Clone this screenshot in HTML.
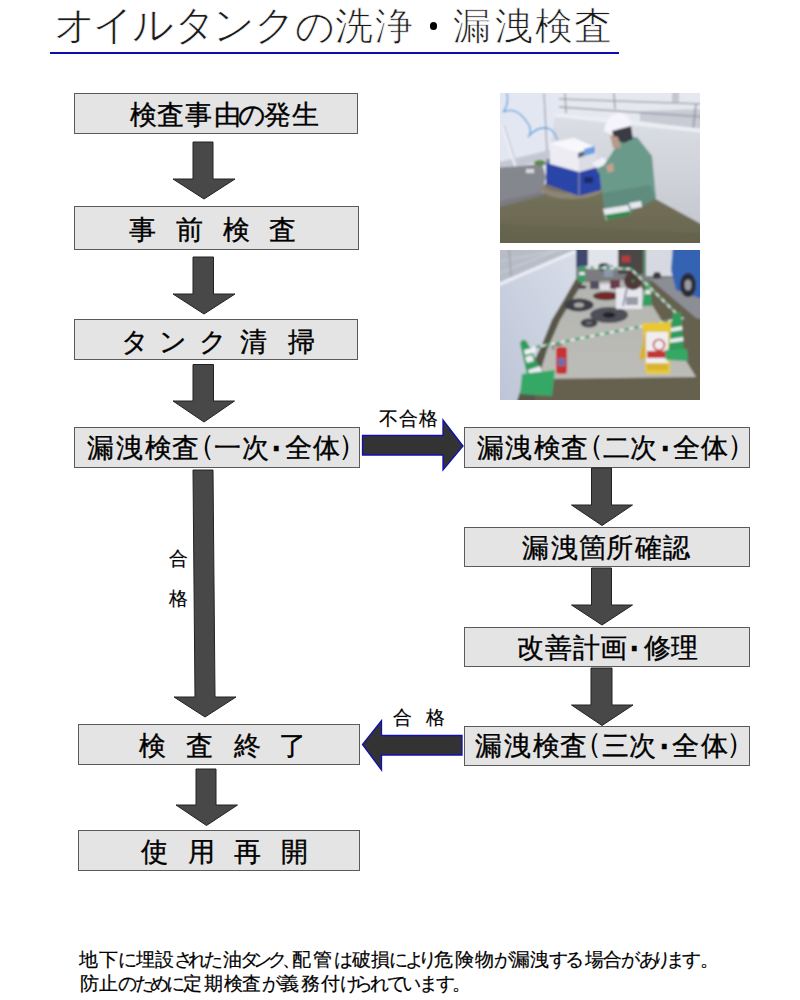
<!DOCTYPE html>
<html lang="ja">
<head>
<meta charset="utf-8">
<style>
html,body{margin:0;padding:0;background:#fff;}
body{width:800px;height:1000px;position:relative;overflow:hidden;font-family:"Liberation Sans",sans-serif;color:#000;}
.box{position:absolute;box-sizing:border-box;background:#e4e4e4;border:1px solid #5a5a5a;}
.ln{position:absolute;left:0;width:800px;height:40px;line-height:1;white-space:nowrap;}
.ln span{position:absolute;top:0;}
.bx span{-webkit-text-stroke:0.35px #000;}
.lb span{-webkit-text-stroke:0.2px #000;}
.tt span{-webkit-text-stroke:0.7px #fff;}
svg{position:absolute;left:0;top:0;}
</style>
</head>
<body>
<div style="position:absolute;left:50px;top:52.2px;width:568.7px;height:2px;background:#0c0cb0;"></div>
<div style="position:absolute;left:429.5px;top:22.4px;width:7.4px;height:7.4px;border-radius:50%;background:#000;"></div>

<div class="box" style="left:73.5px;top:92.9px;width:284.5px;height:41.5px;"></div>
<div class="box" style="left:73.5px;top:205.7px;width:285.6px;height:44.1px;"></div>
<div class="box" style="left:73.5px;top:318.9px;width:284.5px;height:40.9px;"></div>
<div class="box" style="left:73.5px;top:426.8px;width:286.5px;height:41px;"></div>
<div class="box" style="left:78.2px;top:724.1px;width:281.8px;height:41.3px;"></div>
<div class="box" style="left:78.2px;top:830px;width:281.8px;height:41.3px;"></div>
<div class="box" style="left:463.5px;top:427px;width:286.4px;height:40.9px;"></div>
<div class="box" style="left:463.5px;top:526.7px;width:286.6px;height:40.8px;"></div>
<div class="box" style="left:463.5px;top:627px;width:286.6px;height:40.2px;"></div>
<div class="box" style="left:463.5px;top:725.5px;width:286.8px;height:40.9px;"></div>

<svg width="800" height="1000" viewBox="0 0 800 1000">
 <g fill="#484848" stroke="#222" stroke-width="1">
  <path d="M193 142 L213 142 L213 179 L235 179 L204 199 L173 179 L193 179 Z"/>
  <path d="M193 257 L213.5 257 L213.5 294 L235 294 L204 314 L173 294 L193 294 Z"/>
  <path d="M193 364.5 L213.5 364.5 L213.5 401 L234.5 401 L204 422 L173 401 L193 401 Z"/>
  <path d="M193 470 L213 470 L215 697 L236 697 L205 717 L174 697 L195 697 Z"/>
  <path d="M196 769 L216 769 L216 805 L237.5 805 L206.5 825.5 L176 805 L196 805 Z"/>
  <path d="M591.5 468 L611.5 468 L611.5 505 L632.5 505 L602 525.5 L571.5 505 L591.5 505 Z"/>
  <path d="M591.5 568 L611.5 568 L611.5 605 L632.5 605 L602 625 L571.5 605 L591.5 605 Z"/>
  <path d="M591 668 L612 668 L612 705 L633 705 L602 725.5 L571.5 705 L591 705 Z"/>
 </g>
 <g fill="#333" stroke="#1010b0" stroke-width="1.3">
  <path d="M362.5 435.5 L443 435.5 L443 420 L463 446 L443 470 L443 455 L362.5 455 Z"/>
  <path d="M462 735.5 L381.5 735.5 L381.5 720.5 L362.5 744.5 L381.5 770 L381.5 755 L462 755 Z"/>
 </g>
</svg>
<svg style="left:500px;top:93px" width="200" height="150" viewBox="0 0 200 150">
 <defs>
  <filter id="bl1" x="-10%" y="-10%" width="120%" height="120%"><feGaussianBlur stdDeviation="0.8"/></filter>
  <linearGradient id="w1" x1="0" y1="0" x2="1" y2="0"><stop offset="0" stop-color="#e2e6f2"/><stop offset="1" stop-color="#e8ebf4"/></linearGradient>
  <linearGradient id="cw1" x1="0" y1="0" x2="0" y2="1"><stop offset="0" stop-color="#dcdee6"/><stop offset="1" stop-color="#c6c8d0"/></linearGradient>
  <linearGradient id="gr1" x1="0" y1="0" x2="0" y2="1"><stop offset="0" stop-color="#76735c"/><stop offset="1" stop-color="#68664e"/></linearGradient>
  <clipPath id="c1"><rect x="0" y="0" width="200" height="150"/></clipPath>
 </defs>
 <rect x="0" y="0" width="200" height="150" fill="#9a9a94"/>
 <g clip-path="url(#c1)"><g filter="url(#bl1)">
  <rect x="-5" y="-5" width="210" height="160" fill="url(#w1)"/>
  <!-- sky/building behind railing -->
  <rect x="58" y="-5" width="147" height="40" fill="#e6e8f0"/>
  <rect x="172" y="-5" width="7" height="14" fill="#c4c6d0"/>
  <path d="M140 18 L205 16 L205 37 L140 28 Z" fill="#c8cad4"/>
  <!-- railing -->
  <path d="M59 6 L205 11" stroke="#a4a6b0" stroke-width="1.6"/>
  <path d="M59 14 L205 24" stroke="#a0a2ac" stroke-width="1.6"/>
  <path d="M65 0 L66 20" stroke="#8e909c" stroke-width="1.2"/>
  <path d="M114 0 L115 16" stroke="#8e909c" stroke-width="1.2"/>
  <path d="M196 11 L193 37" stroke="#8e909c" stroke-width="1.4"/>
  <!-- concrete wall -->
  <path d="M55 21 L200 37 L205 37 L205 133 L152 105 L100 82 L50 58 Z" fill="url(#cw1)"/>
  <path d="M55 20 L205 36 L205 40 L55 24 Z" fill="#eceef4"/>
  <!-- left building wall base -->
  <path d="M-5 70 L50 57 L52 66 L-5 78 Z" fill="#c4c7d2"/>
  <!-- pipe -->
  <path d="M44 0 L47 58" stroke="#9a9ca6" stroke-width="1.2"/>
  <path d="M3 32 L17 76" stroke="#f0f0f6" stroke-width="4"/>
  <path d="M4 32 L18 76" stroke="#a0a4b4" stroke-width="0.8"/>
  <rect x="9" y="76" width="11" height="7" fill="#8a4a4a"/>
  <!-- hose -->
  <path d="M7 0 Q9 12 3 19 Q18 12 30 34 Q31 42 28 44 Q38 32 50 36 Q56 40 57 47" fill="none" stroke="#4a9ed8" stroke-width="1.3"/>
  <!-- grass -->
  <path d="M-5 111 L42 100 L60 100 L100 98 L103 84 L152 104 L205 133 L205 155 L-5 155 Z" fill="url(#gr1)"/>
  <path d="M-5 130 L205 140 L205 155 L-5 155 Z" fill="#5e5e48" opacity="0.3"/>
  <!-- gravel -->
  <path d="M-5 75 L42 71 L46 84 L42 100 L-5 112 Z" fill="#85878f"/>
  <path d="M0 108 L42 99 L44 102 L0 114 Z" fill="#7a7a80"/>
  <rect x="26" y="76" width="8" height="4" fill="#d8d8e0"/>
  <!-- plant -->
  <ellipse cx="40" cy="70" rx="6" ry="3" fill="#5a8a4a"/>
  <!-- concrete base ring -->
  <ellipse cx="72" cy="96" rx="31" ry="10" fill="#8c8474"/>
  <ellipse cx="72" cy="93" rx="27" ry="7" fill="#7a7264"/>
  <!-- blue case -->
  <path d="M46 66 L100 68 L101 97 L79 103 L46 91 Z" fill="#2c44a8"/>
  <path d="M46 66 L100 68 L100 71 L79 76 L46 70 Z" fill="#8088a8"/>
  <path d="M79 76 L79 103" stroke="#9094a8" stroke-width="1.2"/>
  <rect x="84" y="84" width="9" height="6" fill="#1e2a6a"/>
  <!-- machine -->
  <path d="M50 50 L74 45 L97 55 L97 74 L79 79 L50 71 Z" fill="#ececf2"/>
  <path d="M50 50 L74 45 L97 55 L79 60 Z" fill="#f8f8fc"/>
  <path d="M79 60 L97 55 L97 74 L79 79 Z" fill="#dcdce4"/>
  <path d="M84 56 L95 53 L95 60 L84 63 Z" fill="#6aa0e0"/>
  <path d="M78 60 L84 58 L84 63 L78 65 Z" fill="#5c6478"/>
  <!-- clipboard -->
  <path d="M92 70 L103 64 L118 80 L108 86 Z" fill="#f0f0f6"/>
  <!-- person -->
  <path d="M121 45 L137 44 L152 63 L156 105 L147 110 L131 118 L118 124 L105 121 L103 105 L100 82 L96 76 L104 72 L112 60 Z" fill="#6b9a8a"/>
  <path d="M103 100 L150 92 L156 105 L147 110 L131 118 L118 124 L105 121 Z" fill="#5e8c7e"/>
  <path d="M104 38 Q106 22 118 20 Q130 20 131 33 L112 42 Z" fill="#f4f4fa"/>
  <path d="M112 38 L131 33 L133 46 L124 50 L114 46 Z" fill="#3a3a44"/>
  <path d="M110 42 L118 44 L121 55 L113 55 Z" fill="#b89a88"/>
  <path d="M106 73 L113 70 L114 78 L108 80 Z" fill="#c8a090"/>
  <!-- shoes -->
  <path d="M103 116 L128 112 L131 121 L106 127 Z" fill="#e8e8ee"/>
  <path d="M105 122 L130 118 L131 122 L107 127 Z" fill="#2e8a4e"/>
  <path d="M129 110 L141 108 L142 114 L131 116 Z" fill="#e8e8ee"/>
 </g></g>
</svg>
<svg style="left:500px;top:250px" width="200" height="150" viewBox="0 0 200 150">
 <defs>
  <filter id="bl2" x="-10%" y="-10%" width="120%" height="120%"><feGaussianBlur stdDeviation="0.8"/></filter>
  <linearGradient id="w2" x1="1" y1="0" x2="0" y2="1"><stop offset="0" stop-color="#d8dde9"/><stop offset="1" stop-color="#bcc4d6"/></linearGradient>
  <linearGradient id="pad2" x1="0" y1="0" x2="0" y2="1"><stop offset="0" stop-color="#b4b4b0"/><stop offset="1" stop-color="#bcbcb8"/></linearGradient>
  <clipPath id="c2"><rect x="0" y="0" width="200" height="150"/></clipPath>
 </defs>
 <rect x="0" y="0" width="200" height="150" fill="#8a8a84"/>
 <g clip-path="url(#c2)"><g filter="url(#bl2)">
  <rect x="-5" y="-5" width="210" height="160" fill="#66604f"/>
  <!-- background band -->
  <rect x="74" y="-5" width="131" height="36" fill="#7c7c80"/>
  <rect x="76" y="-5" width="12" height="22" fill="#3c4670"/>
  <rect x="88" y="-5" width="30" height="24" fill="#e2e4ec"/>
  <ellipse cx="104" cy="17" rx="6" ry="4" fill="#34343a"/>
  <rect x="118" y="-5" width="28" height="29" fill="#4c4646"/>
  <rect x="122" y="6" width="8" height="6" fill="#b83a3a"/>
  <rect x="146" y="-5" width="30" height="31" fill="#d6d8e2"/>
  <circle cx="157" cy="26" r="4" fill="#3a3a40"/>
  <rect x="143" y="-5" width="3" height="30" fill="#5a8a6a"/>
  <!-- asphalt -->
  <path d="M150 29 L205 26 L205 70 L196 68 Z" fill="#8c8e96"/>
  <!-- truck -->
  <path d="M173 -5 L205 -5 L205 50 L176 40 L171 20 Z" fill="#3464b4"/>
  <ellipse cx="188" cy="35" rx="8" ry="12" fill="#2a2a30"/>
  <ellipse cx="188" cy="35" rx="3.5" ry="5.5" fill="#9a9aa4"/>
  <!-- railing area above wall -->
  <path d="M-5 -5 L76 -5 L74 0 L-5 34 Z" fill="#b8bcc6"/>
  <path d="M-5 12 L70 -2" stroke="#c8ccd6" stroke-width="1.4"/>
  <path d="M-5 25 L66 -3" stroke="#c8ccd6" stroke-width="1.4"/>
  <path d="M9 -5 L11 28" stroke="#9a9eaa" stroke-width="1.2"/>
  <!-- wall -->
  <path d="M-5 34 L74 0 L76 0 L76 29 L64 50 L52 70 L42 95 L30 120 L20 142 L16 155 L-5 155 Z" fill="url(#w2)"/>
  <path d="M-5 34 L74 0 L76 0 L76 3 L-5 38 Z" fill="#e8ecf4"/>
  <!-- grass strip near wall -->
  <path d="M76 29 L84 31 L60 70 L47 100 L38 129 L34 155 L16 155 L20 142 L30 120 L42 95 L52 70 L64 50 Z" fill="#58564a"/>
  <!-- concrete pad -->
  <path d="M83 32 L137 30 L196 127 L38 129 L47 100 L60 70 Z" fill="url(#pad2)"/>
  <!-- rings -->
  <ellipse cx="82" cy="37" rx="4.5" ry="1.8" fill="#3c3c44"/>
  <ellipse cx="79" cy="55" rx="14.5" ry="6.5" fill="#3e3e46"/>
  <ellipse cx="79" cy="55" rx="5" ry="2.5" fill="#a8a8a4"/>
  <ellipse cx="109" cy="65" rx="19" ry="8" fill="#505058"/>
  <ellipse cx="109" cy="65" rx="6.5" ry="3" fill="#24242a"/>
  <ellipse cx="89" cy="73" rx="8.5" ry="4.5" fill="#404048"/>
  <ellipse cx="89" cy="73" rx="3" ry="1.5" fill="#707074"/>
  <ellipse cx="106" cy="46" rx="13" ry="4.2" fill="#343438"/>
  <ellipse cx="106" cy="46" rx="11" ry="3.2" fill="#7a2626"/>
  <!-- equipment -->
  <rect x="90" y="31" width="9" height="8" fill="#505060"/>
  <rect x="100" y="34" width="14" height="6" fill="#e0e0e8"/>
  <rect x="110" y="30" width="10" height="9" fill="#6a3a4a"/>
  <rect x="104" y="15" width="9" height="12" fill="#8a9aa8"/>
  <path d="M116 38 L142 38 L142 59 L116 59 Z" fill="#e6e6ee"/>
  <circle cx="133" cy="31" r="9" fill="#503838"/>
  <circle cx="133" cy="31" r="1.5" fill="#3a8a4a"/>
  <path d="M127 38 L123 56" stroke="#6a7288" stroke-width="1.4"/>
  <rect x="126" y="47" width="12" height="8" fill="#9a9aa4"/>
  <!-- cones back -->
  <path d="M80 16 L84 16 L86 32 L78 32 Z" fill="#30a060"/>
  <path d="M79.5 22 L84.5 22 L85 25 L79 25 Z" fill="#e8e8ee"/>
  <path d="M146 32 L150 32 L152 56 L142 56 Z" fill="#30a060"/>
  <path d="M145.5 40 L150.5 40 L151 44 L145 44 Z" fill="#e8e8ee"/>
  <!-- striped bars -->
  <path d="M82 17 L131 19 L179 66" fill="none" stroke="#e8e6e0" stroke-width="1.8"/>
  <path d="M82 17 L131 19 L179 66" fill="none" stroke="#30a070" stroke-width="1.8" stroke-dasharray="4 4"/>
  <path d="M26 99 L184 68" stroke="#ecebe4" stroke-width="2.2"/>
  <path d="M26 99 L184 68" stroke="#2ea070" stroke-width="2.2" stroke-dasharray="5 5"/>
  <!-- cone left -->
  <path d="M20 93 Q23 87 27 92 L47 132 L30 138 Z" fill="#2e9c5a"/>
  <path d="M25 107 L32 105 L34 111 L27 113 Z" fill="#ececf2"/>
  <path d="M28 120 L40 116 L42 122 L30 126 Z" fill="#ececf2"/>
  <path d="M22 124 L55 120 L52 146 L20 144 Z" fill="#34a866"/>
  <path d="M24 100 L36 97 L36 102 L25 105 Z" fill="#f0f0f6"/>
  <!-- extinguisher -->
  <path d="M54 100 Q50 96 57 95 L62 95" fill="none" stroke="#303036" stroke-width="1"/>
  <rect x="56" y="97" width="11" height="27" rx="3" fill="#c83232"/>
  <rect x="58" y="108" width="7" height="8" fill="#6a70a8"/>
  <!-- yellow sign -->
  <path d="M142 73 L171 72 L170 124 L146 124 Z" fill="#e8c834"/>
  <path d="M139 110 L146 78 L148 108 Z" fill="#d8b428"/>
  <rect x="146" y="82" width="22" height="31" fill="#eeeef2"/>
  <circle cx="159" cy="95" r="5.5" fill="none" stroke="#c43030" stroke-width="1.5"/>
  <rect x="147" y="101" width="20" height="7" fill="#c43434"/>
  <rect x="147" y="114" width="21" height="6" fill="#d8b430"/>
  <!-- cone right -->
  <path d="M173 63 L181 62 L184 104 L168 104 Z" fill="#2e9c5a"/>
  <path d="M171 78 L182 76 L182.5 80 L170.5 82 Z" fill="#ececf2"/>
  <path d="M170 89 L183 87 L183.5 91 L169.5 93 Z" fill="#ececf2"/>
  <path d="M165 100 L187 99 L188 111 L166 110 Z" fill="#34a866"/>
 </g></g>
</svg>

<div class="ln tt" style="top:7px;font-size:38px;color:#1a1a1a"><span style="left:53.60px;font-size:41.0px;top:-2.5px">オ</span><span style="left:92.00px;font-size:41.0px;top:-2.5px">イ</span><span style="left:132.40px;font-size:41.0px;top:-2.5px">ル</span><span style="left:174.40px;font-size:41.0px;top:-2.5px">タ</span><span style="left:213.10px;font-size:41.0px;top:-2.5px">ン</span><span style="left:254.40px;font-size:41.0px;top:-2.5px">ク</span><span style="left:294.90px;font-size:39.0px;top:-0.5px">の</span><span style="left:334.60px">洗</span><span style="left:374.90px">浄</span><span style="left:452.75px">漏</span><span style="left:495.25px">洩</span><span style="left:534.70px">検</span><span style="left:574.00px">査</span></div>
<div class="ln bx" style="top:102.2px;font-size:27px;color:#000"><span style="left:129.70px">検</span><span style="left:157.20px">査</span><span style="left:185.00px">事</span><span style="left:213.75px">由</span><span style="left:237.93px">の</span><span style="left:264.40px">発</span><span style="left:291.68px">生</span></div>
<div class="ln bx" style="top:217px;font-size:27px;color:#000"><span style="left:129.07px">事</span><span style="left:176.25px">前</span><span style="left:222.80px">検</span><span style="left:268.75px">査</span></div>
<div class="ln bx" style="top:328.5px;font-size:27px;color:#000"><span style="left:120.93px">タ</span><span style="left:159.45px">ン</span><span style="left:199.05px">ク</span><span style="left:240.43px">清</span><span style="left:287.60px">掃</span></div>
<div class="ln bx" style="top:435px;font-size:27px;color:#000"><span style="left:87.25px">漏</span><span style="left:116.00px">洩</span><span style="left:144.93px">検</span><span style="left:172.20px">査</span><span style="left:185.85px;font-size:29px;top:-4px;-webkit-text-stroke:0">（</span><span style="left:214.05px">一</span><span style="left:241.65px">次</span><span style="left:268.25px;font-size:33px;top:-2.5px">･</span><span style="left:285.00px">全</span><span style="left:312.50px">体</span><span style="left:338.00px;font-size:29px;top:-4px;-webkit-text-stroke:0">）</span></div>
<div class="ln bx" style="top:435px;font-size:27px;color:#000"><span style="left:476.50px">漏</span><span style="left:504.62px">洩</span><span style="left:533.58px">検</span><span style="left:560.80px">査</span><span style="left:574.50px;font-size:29px;top:-4px;-webkit-text-stroke:0">（</span><span style="left:602.50px">二</span><span style="left:630.42px">次</span><span style="left:656.90px;font-size:33px;top:-2.5px">･</span><span style="left:673.33px">全</span><span style="left:701.42px">体</span><span style="left:726.65px;font-size:29px;top:-4px;-webkit-text-stroke:0">）</span></div>
<div class="ln bx" style="top:534.5px;font-size:27px;color:#000"><span style="left:521.60px">漏</span><span style="left:551.12px">洩</span><span style="left:578.95px">箇</span><span style="left:606.05px">所</span><span style="left:635.00px">確</span><span style="left:662.92px">認</span></div>
<div class="ln bx" style="top:635px;font-size:27px;color:#000"><span style="left:517.00px">改</span><span style="left:545.10px">善</span><span style="left:573.25px">計</span><span style="left:600.42px">画</span><span style="left:626.40px;font-size:33px;top:-2.5px">･</span><span style="left:643.60px">修</span><span style="left:671.25px">理</span></div>
<div class="ln bx" style="top:733px;font-size:27px;color:#000"><span style="left:475.25px">漏</span><span style="left:504.00px">洩</span><span style="left:533.25px">検</span><span style="left:560.08px">査</span><span style="left:573.15px;font-size:29px;top:-4px;-webkit-text-stroke:0">（</span><span style="left:601.95px">三</span><span style="left:629.08px">次</span><span style="left:655.50px;font-size:33px;top:-2.5px">･</span><span style="left:672.25px">全</span><span style="left:700.70px">体</span><span style="left:725.55px;font-size:29px;top:-4px;-webkit-text-stroke:0">）</span></div>
<div class="ln bx" style="top:733px;font-size:27px;color:#000"><span style="left:139.40px">検</span><span style="left:185.62px">査</span><span style="left:233.60px">終</span><span style="left:279.25px">了</span></div>
<div class="ln bx" style="top:839px;font-size:27px;color:#000"><span style="left:141.25px">使</span><span style="left:188.32px">用</span><span style="left:233.90px">再</span><span style="left:281.05px">開</span></div>
<div class="ln lb" style="top:408.5px;font-size:19px;color:#000"><span style="left:378.50px">不</span><span style="left:398.50px">合</span><span style="left:419.00px">格</span></div>
<div class="ln lb" style="top:708.2px;font-size:19px;color:#000"><span style="left:393.20px">合</span><span style="left:426.10px">格</span></div>
<div class="ln lb" style="top:548.6px;font-size:19px;color:#000"><span style="left:168.50px">合</span></div>
<div class="ln lb" style="top:588.9px;font-size:19px;color:#000"><span style="left:168.70px">格</span></div>
<div class="ln lb" style="top:949.5px;font-size:19px;color:#000"><span style="left:79.25px">地</span><span style="left:98.75px">下</span><span style="left:117.50px">に</span><span style="left:136.00px">埋</span><span style="left:155.25px">設</span><span style="left:173.50px">さ</span><span style="left:187.50px">れ</span><span style="left:204.25px">た</span><span style="left:223.00px">油</span><span style="left:239.80px">タ</span><span style="left:253.05px">ン</span><span style="left:268.30px">ク</span><span style="left:282.00px">、</span><span style="left:292.25px">配</span><span style="left:313.00px">管</span><span style="left:333.50px">は</span><span style="left:351.50px">破</span><span style="left:371.25px">損</span><span style="left:388.75px">に</span><span style="left:405.00px">よ</span><span style="left:418.00px">り</span><span style="left:434.00px">危</span><span style="left:454.50px">険</span><span style="left:474.50px">物</span><span style="left:493.50px">が</span><span style="left:511.00px">漏</span><span style="left:529.50px">洩</span><span style="left:549.00px">す</span><span style="left:565.00px">る</span><span style="left:584.50px">場</span><span style="left:603.00px">合</span><span style="left:620.50px">が</span><span style="left:638.50px">あ</span><span style="left:652.00px">り</span><span style="left:666.00px">ま</span><span style="left:681.50px">す</span><span style="left:699.50px">。</span></div>
<div class="ln lb" style="top:974px;font-size:19px;color:#000"><span style="left:80.00px">防</span><span style="left:99.00px">止</span><span style="left:117.50px">の</span><span style="left:134.50px">た</span><span style="left:149.50px">め</span><span style="left:165.75px">に</span><span style="left:183.25px">定</span><span style="left:203.50px">期</span><span style="left:223.50px">検</span><span style="left:242.25px">査</span><span style="left:261.50px">が</span><span style="left:280.00px">義</span><span style="left:301.00px">務</span><span style="left:321.25px">付</span><span style="left:339.50px">け</span><span style="left:353.50px">ら</span><span style="left:369.50px">れ</span><span style="left:386.75px">て</span><span style="left:402.07px">い</span><span style="left:418.80px">ま</span><span style="left:435.75px">す</span><span style="left:451.93px">。</span></div>
</body>
</html>
